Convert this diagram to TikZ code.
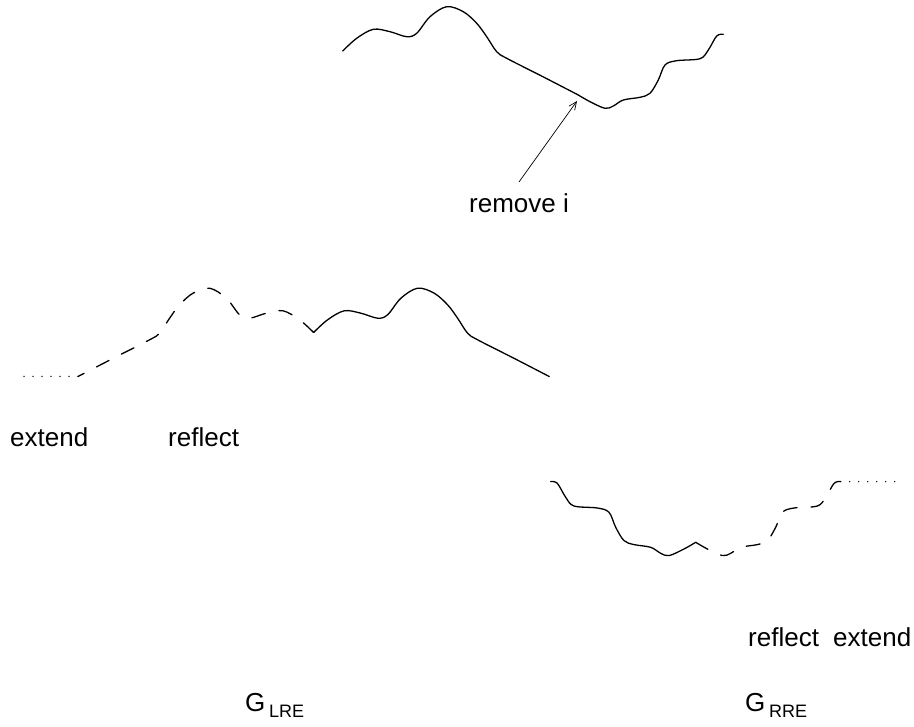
\documentclass[tikz,border=0pt]{standalone}
\usepackage{fontspec}
\setmainfont{Liberation Sans}
\usetikzlibrary{arrows.meta}
\newcommand\Lcurve{plot[smooth,tension=0.55] coordinates {(0,0) (14,-12.7) (30.6,-21.7) (47.3,-19.3) (64,-14.3) (74,-17.7) (87.3,-34.3) (104,-44.3) (120.6,-39.3) (134,-27.7) (144,-14.3) (154,0.7) (164,7.3) (200,25.6) (235.6,44)}}
\newcommand\Rcurve{plot[smooth,tension=0.55] coordinates {(0,0) (11.7,6.7) (26.7,13.3) (35,11) (45,5) (61.7,2.3) (71.7,-1.7) (80,-15) (86.7,-30) (98.4,-34.3) (121.7,-36.3) (130,-45) (138.4,-59) (145,-60.7)}}
\begin{document}
\begin{tikzpicture}[x=1pt,y=-1pt,
  curve/.style={line width=1.3pt, line cap=round, line join=round},
  dashcurve/.style={curve, dash pattern=on 14pt off 14pt},
  dotline/.style={line width=1.5pt, line cap=round, dash pattern=on 0pt off 9pt},
  lbl/.style={inner sep=0pt, anchor=base west, font=\fontsize{26}{30}\selectfont},
  sublbl/.style={inner sep=0pt, anchor=base west, font=\fontsize{18}{21}\selectfont},
  pointer/.style={line width=0.7pt, -{Straight Barb[length=8pt,width=7pt]}}]
\useasboundingbox (0,0) rectangle (914,727);
% top curve
\begin{scope}[shift={(342.7,51)}]
  \draw[curve] \Lcurve;
\end{scope}
\begin{scope}[shift={(578.3,95)}]
  \draw[curve] \Rcurve;
\end{scope}
\coordinate (tail) at (519,182);
\coordinate (tip) at (577,101);
\draw[pointer] (tail) -- (tip);
\node[lbl] (remove) at (469,213) {remove i};
% middle: left reflected and extended
\begin{scope}[shift={(313.6,332.5)}]
  \draw[curve] \Lcurve;
\end{scope}
\begin{scope}[shift={(313.6,332.5)},xscale=-1]
  \draw[dashcurve] \Lcurve;
\end{scope}
\coordinate (lext1) at (78,376.5);
\coordinate (lext2) at (19.6,376.5);
\draw[dotline] (lext1) -- (lext2);
\node[lbl] (extL) at (10,447) {extend};
\node[lbl] (refL) at (168,447) {reflect};
% right: reflected and extended
\begin{scope}[shift={(695.7,542.3)},xscale=-1]
  \draw[curve] \Rcurve;
\end{scope}
\begin{scope}[shift={(695.7,542.3)}]
  \draw[dashcurve] \Rcurve;
\end{scope}
\coordinate (rext1) at (840.7,481.6);
\coordinate (rext2) at (901.7,481.6);
\draw[dotline] (rext1) -- (rext2);
\node[lbl] (refR) at (748,646) {reflect};
\node[lbl] (extR) at (833,646) {extend};
% labels
\node[lbl] (GL) at (245,711) {G};
\node[sublbl] (GLs) at (269,717) {LRE};
\node[lbl] (GR) at (745,711) {G};
\node[sublbl] (GRs) at (769,717) {RRE};
\end{tikzpicture}
\end{document}
